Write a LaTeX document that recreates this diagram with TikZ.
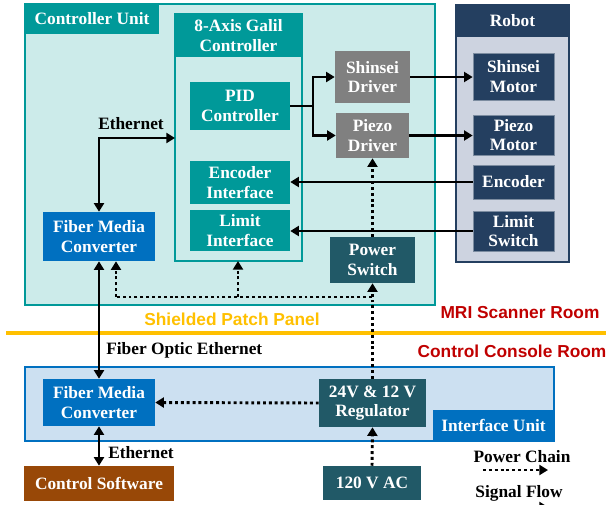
\documentclass[tikz,border=0pt]{standalone}
\usepackage{fontspec}
\setmainfont{Liberation Serif}
\newfontfamily\arialfont{Liberation Sans}
\usetikzlibrary{arrows.meta}
\definecolor{teal1}{HTML}{009999}
\definecolor{tealL}{HTML}{CCEBEA}
\definecolor{navy}{HTML}{243F60}
\definecolor{navyL}{HTML}{CDD3E0}
\definecolor{blue1}{HTML}{0070C0}
\definecolor{blueL}{HTML}{CCE0F1}
\definecolor{dteal}{HTML}{215967}
\definecolor{brown1}{HTML}{984807}
\definecolor{orange1}{HTML}{FFC000}
\definecolor{red1}{HTML}{C00000}
\definecolor{gray1}{HTML}{808080}
\tikzset{
  box/.style={rectangle, inner sep=0pt, align=center, text=white,
    font=\fontsize{13}{14.5}\selectfont\bfseries},
  sig/.style={line width=2.2pt, -{Triangle[length=6.5pt,width=7.5pt]}},
  sigb/.style={line width=2.2pt, {Triangle[length=6.5pt,width=7.5pt]}-{Triangle[length=6.5pt,width=7.5pt]}},
  sigl/.style={line width=2.2pt},
  pwr/.style={line width=2.2pt, dash pattern=on 2.2pt off 2.2pt, -{Triangle[length=6.5pt,width=7.5pt]}},
  pwrl/.style={line width=2.2pt, dash pattern=on 2.2pt off 2.2pt},
  lbl/.style={inner sep=0pt, font=\fontsize{13}{14.5}\selectfont\bfseries},
  room/.style={inner sep=0pt, font=\arialfont\fontsize{13}{14.5}\selectfont\bfseries},
}
\begin{document}
\begin{tikzpicture}[x=0.75pt,y=-0.75pt]
\useasboundingbox (0,0) rectangle (606,504);
\clip (0,0) rectangle (606,504);
% Controller unit
\draw[fill=tealL, draw=teal1, line width=1.2pt] (25,4) rectangle (435,305);
\node[box, fill=teal1, minimum width=134*0.75pt, minimum height=30*0.75pt] (cutab) at (92,19) {Controller Unit};
% Galil
\draw[fill=tealL, draw=teal1, line width=1.2pt] (175,14) rectangle (302,261);
\coordinate (galilL) at (175,138);
\coordinate (galilB) at (238,261);
\node[box, fill=teal1, minimum width=127*0.75pt, minimum height=43*0.75pt] (galil) at (238.5,35.5) {8-Axis Galil\\Controller};
\node[box, fill=teal1, minimum width=100*0.75pt, minimum height=48*0.75pt] (pid) at (240,106) {PID\\Controller};
\node[box, fill=teal1, minimum width=100*0.75pt, minimum height=43*0.75pt] (encif) at (240,182.5) {Encoder\\Interface};
\node[box, fill=teal1, minimum width=100*0.75pt, minimum height=41*0.75pt] (limif) at (240,230.5) {Limit\\Interface};
\node[box, fill=gray1, minimum width=75*0.75pt, minimum height=52*0.75pt] (sdrv) at (372.5,77) {Shinsei\\Driver};
\node[box, fill=gray1, minimum width=73*0.75pt, minimum height=45*0.75pt] (pdrv) at (372.5,135.5) {Piezo\\Driver};
\node[box, fill=dteal, minimum width=85*0.75pt, minimum height=46*0.75pt] (psw) at (372.5,260) {Power\\Switch};
\node[box, fill=blue1, minimum width=112*0.75pt, minimum height=49*0.75pt] (fmc1) at (99,236.5) {Fiber Media\\Converter};
% Robot
\draw[fill=navyL, draw=navy, line width=1.2pt] (456,5) rectangle (569,262);
\node[box, fill=navy, minimum width=113*0.75pt, minimum height=32*0.75pt] (robot) at (512.5,21) {Robot};
\node[box, fill=navy, draw=navy!60, line width=0.5pt, minimum width=81*0.75pt, minimum height=47*0.75pt] (smot) at (513.5,76.5) {Shinsei\\Motor};
\node[box, fill=navy, draw=navy!60, line width=0.5pt, minimum width=81*0.75pt, minimum height=40*0.75pt] (pmot) at (513.5,135) {Piezo\\Motor};
\node[box, fill=navy, draw=navy!60, line width=0.5pt, minimum width=81*0.75pt, minimum height=34*0.75pt] (enc) at (513.5,182) {Encoder};
\node[box, fill=navy, draw=navy!60, line width=0.5pt, minimum width=81*0.75pt, minimum height=40*0.75pt] (lsw) at (513.5,231) {Limit\\Switch};
% Room separation
\draw[orange1, line width=3pt] (6,333) -- (606,333);
\node[room, text=orange1] (spp) at (232,319) {Shielded Patch Panel};
\node[room, text=red1] (mri) at (520,313) {MRI Scanner Room};
\node[room, text=red1] (ccr) at (512,351) {Control Console Room};
% Interface unit
\draw[fill=blueL, draw=blue1, line width=1.2pt] (25,367) rectangle (554,441);
\node[box, fill=blue1, minimum width=121*0.75pt, minimum height=31*0.75pt] (iutab) at (493.5,425.5) {Interface Unit};
\node[box, fill=blue1, minimum width=112*0.75pt, minimum height=47*0.75pt] (fmc2) at (99,402.5) {Fiber Media\\Converter};
\node[box, fill=dteal, minimum width=107*0.75pt, minimum height=48*0.75pt] (reg) at (372.5,403) {24V \& 12 V\\Regulator};
\node[box, fill=brown1, minimum width=150*0.75pt, minimum height=35*0.75pt] (sw) at (99,483.5) {Control Software};
\node[box, fill=dteal, minimum width=98*0.75pt, minimum height=34*0.75pt] (ac) at (372,483) {120 V AC};
% Signal connectors
\draw[sigb] (fmc1.north) |- (galilL);
\node[lbl] (eth1) at (131,124) {Ethernet};
\coordinate (split) at (313,106);
\draw[sigl] (pid.east) -- (split);
\draw[sig] (split) |- (sdrv.west);
\draw[sig] (split) |- (pdrv.west);
\draw[sig] (sdrv.east) -- (sdrv.east -| smot.west);
\draw[sig] (pdrv.east) -- (pdrv.east -| pmot.west);
\draw[sig] (enc.west) -- (enc.west -| encif.east);
\draw[sig] (lsw.west) -- (lsw.west -| limif.east);
\draw[sigb] (fmc1.south) -- (fmc2.north);
\node[lbl, anchor=west] (foe) at (106,350) {Fiber Optic Ethernet};
\draw[sigb] (fmc2.south) -- (sw.north);
\node[lbl, anchor=west] (eth2) at (108,453) {Ethernet};
% Power connectors
\draw[pwr] (ac.north) -- (reg.south);
\draw[pwr] (reg.north) -- (psw.south);
\draw[pwr] (psw.north) -- (pdrv.south);
\coordinate (pj) at (372,297);
\coordinate (pf) at (116,297);
\draw[pwrl] (pj) -- (pf);
\draw[pwr] (pf) -- (fmc1.south -| pf);
\draw[pwr] (galilB |- pj) -- (galilB);
\draw[pwr] (reg.west) -- (fmc2.east);
% Legend
\node[lbl] (lpc) at (522,457) {Power Chain};
\coordinate (lp1) at (483,470);
\coordinate (lp2) at (548,470);
\draw[pwr] (lp1) -- (lp2);
\node[lbl] (lsf) at (519,493) {Signal Flow};
\coordinate (ls1) at (483,507);
\coordinate (ls2) at (548,507);
\draw[sig] (ls1) -- (ls2);
\end{tikzpicture}
\end{document}
